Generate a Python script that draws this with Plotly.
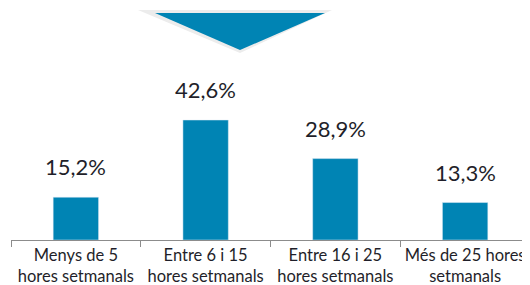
import plotly.graph_objects as go

categories = ["Menys de 5<br>hores setmanals", "Entre 6 i 15<br>hores setmanals",
              "Entre 16 i 25<br>hores setmanals", "Més de 25 hores<br>setmanals"]
values = [15.2, 42.6, 28.9, 13.3]
labels = ["15,2%", "42,6%", "28,9%", "13,3%"]

BAR = "#0084B4"
TXT = "#1f1f2a"
OFF = 8  # page body margin offset
W, H = 530 - OFF, 285 - OFF
ML, MR, MT = 3, 0, 0
PH = 232
MB = H - MT - PH
PW = W - ML - MR
PX_PER_UNIT = 120 / 42.6

def px(sx):
    return (sx - OFF - ML) / PW

def py(sy):
    return (PH - (sy - OFF - MT)) / PH

fig = go.Figure(go.Bar(x=categories, y=values, marker_color=BAR, width=0.35,
                       hoverinfo="skip"))

for c, v, t in zip(categories, values, labels):
    fig.add_annotation(x=c, y=v, text=t, showarrow=False, yanchor="bottom", yshift=15,
                       font=dict(family="Lato", size=22, color=TXT))

fig.add_shape(type="path", xref="paper", yref="paper",
              path=f"M {px(138)} {py(10)} L {px(332)} {py(10)} L {px(240)} {py(53)} Z",
              fillcolor="#ececec", line=dict(width=0), layer="below")
fig.add_shape(type="path", xref="paper", yref="paper",
              path=f"M {px(155)} {py(13)} L {px(325)} {py(13)} L {px(240)} {py(50)} Z",
              fillcolor=BAR, line=dict(width=0))

fig.update_layout(
    width=W, height=H, margin=dict(l=ML, r=MR, t=MT, b=MB, autoexpand=False),
    plot_bgcolor="white", paper_bgcolor="white", showlegend=False,
    font=dict(family="Lato", color=TXT),
)
fig.update_xaxes(showline=True, linecolor="#8c8c8c", linewidth=1, ticks="outside",
                 tickson="boundaries", ticklen=6, tickcolor="#8c8c8c", tickangle=0,
                 tickfont=dict(size=16.5, color=TXT), showgrid=False, automargin=False)
fig.update_yaxes(range=[0, PH / PX_PER_UNIT], visible=False, showgrid=False)

fig.write_html("out.html")
